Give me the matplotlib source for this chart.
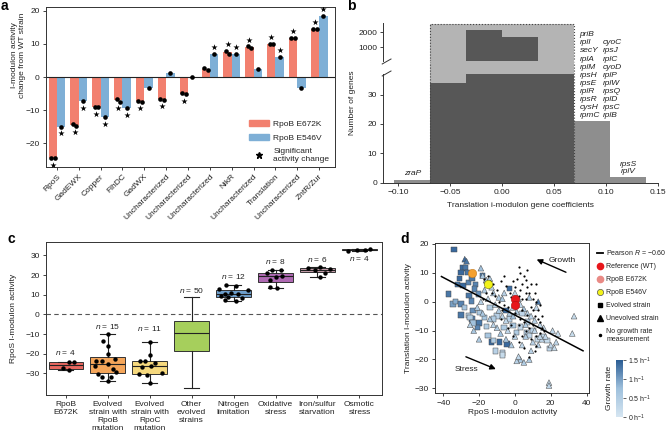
import numpy as np
import matplotlib
matplotlib.use('Agg')
import matplotlib.pyplot as plt
from matplotlib.patches import Patch, Rectangle
from matplotlib.lines import Line2D
from matplotlib.colors import LinearSegmentedColormap, Normalize
from matplotlib.cm import ScalarMappable
import matplotlib.transforms as mtransforms
from matplotlib import cbook

plt.rcParams['font.family'] = ['Liberation Sans', 'DejaVu Sans']
plt.rcParams['mathtext.fontset'] = 'custom'
plt.rcParams['mathtext.rm'] = 'Liberation Sans'
plt.rcParams['mathtext.it'] = 'Liberation Sans:italic'
plt.rcParams['font.size'] = 6
plt.rcParams['axes.linewidth'] = 0.7
plt.rcParams['xtick.major.size'] = 2.5
plt.rcParams['ytick.major.size'] = 2.5
plt.rcParams['xtick.major.width'] = 0.6
plt.rcParams['ytick.major.width'] = 0.6
plt.rcParams['xtick.labelsize'] = 6
plt.rcParams['ytick.labelsize'] = 6
plt.rcParams['axes.labelsize'] = 6
TXT = '#222222'

# ---------------- panel a data ----------------
a_categories = ['RpoS', 'GadEWX', 'Copper', 'FlhDC', 'GadWX', 'Uncharacterized',
                'Uncharacterized', 'Uncharacterized', 'NikR', 'Uncharacterized',
                'Translation', 'Uncharacterized', 'ZntR/Zur']
a_e672k_rep1 = [-24.4, -14.2, -9.0, -6.7, -7.2, -6.6, -4.8, 2.7, 7.9, 9.2, 10.0, 11.8, 14.6]
a_e672k_rep2 = [-24.4, -14.7, -9.0, -7.4, -7.4, -6.8, -5.2, 2.2, 6.9, 8.7, 10.0, 11.8, 14.6]
a_e546v = [-14.9, -7.2, -12.1, -9.4, -3.4, 1.3, 0.0, 7.0, 7.0, 2.3, 6.1, -3.3, 18.4]
a_sig_e672k = [1, 1, 1, 1, 1, 1, 1, 0, 1, 1, 1, 1, 1]
a_sig_e546v = [1, 1, 1, 1, 0, 0, 0, 1, 1, 0, 1, 0, 1]

# ---------------- panel b data ----------------
b_edges = [-0.1038, -0.0692, -0.0346, 0.0, 0.0346, 0.0692, 0.1038, 0.1384]
b_counts = [1, 34, 2120, 1700, 60, 21, 2]
b_region = [-0.0692, 0.0692]
b_region_top = 2580
b_genes_col1 = ['priB', 'rplI', 'secY', 'rplA', 'rplM', 'rpsH', 'rpsE', 'rplR', 'rpsR', 'cysH', 'rpmC']
b_genes_col2 = ['cyoC', 'rpsJ', 'rplC', 'cyoD', 'rplP', 'rplW', 'rpsQ', 'rplD', 'rpsC', 'rplB']

# ---------------- panel c data ----------------
c_labels = ['RpoB\nE672K', 'Evolved\nstrain with\nRpoB\nmutation', 'Evolved\nstrain with\nRpoC\nmutation',
            'Other\nevolved\nstrains', 'Nitrogen\nlimitation', 'Oxidative\nstress',
            'Iron/sulfur\nstarvation', 'Osmotic\nstress']
c_n = [4, 15, 11, 50, 12, 8, 6, 4]
c_rpob = [-27.3, -28.5, -24.2, -24.3]
c_rpob_jit = [-0.07, 0.07, 0.07, 0.2]
c_evo_rpob = [-9.8, -13.6, -16.1, -20.0, -22.9, -23.5, -23.7, -25.4, -26.3, -28.0, -29.5, -30.2, -31.9, -32.0, -33.9]
c_evo_rpob_jit = [0.0, -0.11, 0.0, 0.0, 0.17, -0.29, -0.13, 0.0, -0.31, 0.13, 0.21, -0.23, -0.13, 0.09, 0.0]
c_evo_rpoc = [-13.9, -20.5, -23.5, -23.8, -24.6, -26.3, -26.6, -30.0, -30.3, -30.6, -34.9]
c_evo_rpoc_jit = [0.0, 0.02, -0.22, -0.1, 0.13, 0.04, -0.18, 0.29, -0.26, -0.06, 0.02]
c_other_stats = dict(q1=-18.8, med=-9.3, q3=-3.1, whislo=-37.3, whishi=8.8)
c_nitrogen = [15.1, 14.7, 12.9, 12.5, 11.0, 10.6, 10.4, 9.3, 9.0, 8.6, 7.1, 6.6]
c_nitrogen_jit = [-0.17, 0.05, -0.35, 0.35, -0.05, 0.11, -0.21, -0.3, -0.13, 0.19, -0.21, 0.05]
c_oxidative = [22.7, 22.4, 20.9, 19.6, 19.0, 17.5, 14.2, 13.6]
c_oxidative_jit = [0.13, -0.09, -0.21, 0.15, 0.0, -0.13, -0.13, 0.03]
c_iron = [24.1, 23.8, 23.0, 22.4, 21.0, 19.0]
c_iron_jit = [0.07, -0.23, 0.29, -0.07, 0.17, 0.05]
c_osmotic = [32.4, 32.7, 33.0, 33.2]
c_osmotic_jit = [-0.27, -0.07, 0.13, 0.25]
c_colors = ['#E8675F', '#F5A65A', '#F6D97E', '#A6CF5C', '#6E9FCC', '#AE69B2', '#C9A2AE', '#777777']
c_nlabel_y = [-19.3, -6.4, -7.3, 12.2, 19.3, 26.9, 27.8, 28.3]

# ---------------- panel d data ----------------
d_sq_x = [-34, -29, -27.5, -30, -26.5, -31, -32, -29, -26, -24, -22, -37, -34.5, -33, -30, -30, -24.3, -23.3,
          -24, -20, -21, -25.6, -22.4, -20.4, -28, -26, -25, -23.3, -19.6, -16, -15, -13, -12, -8.5, -7, -7,
          -11, -3, -1, 1, 3, 6.3, 8, 12.8, 18, 19.3, -4.4, -18, -16, -14, -10, -6, 4, 7, -17, -12, 10, 16, -5, -3]
d_sq_y = [18, 11.6, 11.8, 10, 10, 8, 6, 5.5, 6.7, 8, 6, 2.6, -0.8, 0, -0.8, -4.6, 0.3, -3.1,
          -6, -7.4, -9, 2.1, 4.4, 2.6, -2, -4.8, -5.5, -7.4, -3.7, -8.5, -11.7, -14, -13.4, -14, -17.7, -18.5,
          -17, -6, -8.3, -10.6, -8.8, -10.6, -11.7, -12.9, -13.4, -16.3, -14.6, 9, 7, -2, -5, -9, -4, -7, -5.5, -6, -10, -12, -3, 4.5]
d_sq_g = [1.4, 1.4, 1.3, 1.4, 1.3, 1.4, 1.3, 1.4, 1.2, 1.3, 1.2, 1.3, 1.0, 0.9, 1.2, 1.3, 1.2, 1.1,
          1.2, 1.3, 1.2, 1.3, 1.2, 1.1, 0.6, 0.4, 0.5, 0.7, 0.6, 0.5, 0.6, 1.4, 0.5, 1.4, 0.3, 0.2,
          0.4, 0.4, 0.6, 0.5, 0.3, 0.4, 0.3, 0.2, 0.2, 0.3, 1.4, 1.3, 0.9, 0.5, 0.4, 0.5, 0.3, 0.4, 0.6, 0.5, 0.4, 0.2, 1.4, 1.4]
d_tri_x = [-28, -27, -19, -18, -16, -14, -17, -13, -12, -21, -19, -15, -11, -9, -7, -5, -3, -1, 1, 3, 5, 7, 9, 11,
           13, 14, 16, 17, 20, 22, 21, 24, 33, 32, 19, 19, 3, 1, 5, 8, 2, 10, 6, -2, -5, -8, -10, -12, -14, -6,
           -9, 0, 2, 8, 12, 15, 13, -4, 0, 4, 9, -20, -23, -25, -18, -1, 6, 14, 23, 11, -7]
d_tri_y = [14.7, 14, 11.6, 9, 7.5, 8, 4, 5, 3, -2, 0, 1, -1, -3, -5, -6.5, -4, -2, -3.5, -1, -2.5, -4, -5, -6.5,
           0, -8, -9, -12, -15, -16, -10, -11, -5, -11, -28, -29, -20, -20.5, -21, -20, -19, -14, -12, -15, -13, -11, -9, -8, -6, 3,
           1.5, 3, 1, 1.5, -2, -13, -15, -10, -12, -15, -17, -13, -10, -8, -4, -5, -8, -12, -14, -10, 1]
d_tri_g = [1.4, 1.3, 0.7, 0.6, 0.6, 0.5, 0.5, 0.4, 0.5, 0.5, 0.4, 0.3, 0.4, 0.5, 0.4, 0.3, 0.5, 0.4, 0.5, 0.3, 0.6, 0.4, 0.3, 0.4,
           1.3, 0.3, 0.2, 0.3, 0.3, 0.2, 0.3, 0.2, 0.2, 0.2, 0.2, 0.3, 0.6, 0.4, 0.5, 0.5, 0.3, 0.4, 0.5, 0.5, 0.6, 0.7, 0.5, 0.4, 0.6, 0.4,
           0.5, 0.3, 0.4, 0.6, 0.3, 0.3, 0.4, 0.3, 0.4, 0.3, 0.4, 0.5, 0.6, 0.4, 0.6, 0.7, 0.5, 0.3, 0.3, 0.3, 0.6]
d_dot_x = [2, 3, 5, 1, 6, 4, -5, -8, -3, 8, 10, 12, 9, 7, 11, 13, 14, 10, 6, 4, 2, -2, -4, -7, -10, -12, -14, -16, -18,
           15, 14, 12, 11, 8, 5, -1, 0, 2, 4, 6, 1, -2, 7, 9, 11, 13, 15, -6, -9, -11, -13, 3, 5, 8, 12, 16, -15, -17,
           -8, -4, 0, 3, 6, 10, 14, 12, 7, 4, -1, 9, 2, -6]
d_dot_y = [12, 10, 9, 8, 7.5, 6, 5.5, 7, 3, 3, 1, 0, -2, -4.5, -5, -6, -7, -8, -10, -12, -14, -8, -9, -3, 4, 6, 7, 3, 1,
           -5, -11, -15.5, -17, -19, -16, -12, 5, 2, -3, 1, -1, 1.5, 5, 6, 3, -3, -9, -1, 0, 2, 3, -6, -7, -9, -12, -10, 9, 8,
           -6, -2, -4, 4, 3, -3, -1, 6, 11, 1, 7, -13, -8, 9]
d_wt_x = [0, 0]
d_wt_y = [1.0, -1.3]
d_e672k_x = [-24]
d_e672k_y = [10]
d_e546v_x = [-15]
d_e546v_y = [6]
d_fit_x = [-41, 38]
d_fit_y = [8.7, -17.0]

# ---------------- figure ----------------
W, H = 667, 438
fig = plt.figure(figsize=(W / 100, H / 100), dpi=100)

def px_axes(l, t, r, b):
    return fig.add_axes([l / W, 1 - b / H, (r - l) / W, (b - t) / H])

def style(ax):
    ax.tick_params(colors=TXT, labelcolor=TXT, pad=2)
    for s in ax.spines.values():
        s.set_color('#333333')

# ===== panel a =====
red = '#F2806F'
blue = '#7EAFD6'
ax = px_axes(46, 7.3, 334.5, 166.7)
style(ax)
x = np.arange(len(a_categories))
e672k = (np.array(a_e672k_rep1) + np.array(a_e672k_rep2)) / 2
ax.bar(x - 0.19, e672k, width=0.38, color=red, zorder=1)
ax.bar(x + 0.19, a_e546v, width=0.38, color=blue, zorder=1)
ax.axhline(0, color='#222222', lw=0.8, zorder=2)
ax.scatter(np.concatenate([x - 0.19 - 0.08, x - 0.19 + 0.08]), a_e672k_rep1 + a_e672k_rep2,
           s=11, color='k', zorder=3, linewidths=0)
ax.scatter(x + 0.19, a_e546v, s=11, color='k', zorder=3, linewidths=0)
for i in range(len(x)):
    lo = min(a_e672k_rep1[i], a_e672k_rep2[i]); hi = max(a_e672k_rep1[i], a_e672k_rep2[i])
    if a_sig_e672k[i]:
        yy = lo - 2.0 if e672k[i] < 0 else hi + 2.0
        ax.scatter(x[i] - 0.19, yy, marker='*', s=22, color='k', zorder=3, linewidths=0)
    if a_sig_e546v[i]:
        yy = a_e546v[i] - 2.0 if a_e546v[i] < 0 else a_e546v[i] + 2.0
        ax.scatter(x[i] + 0.19, yy, marker='*', s=22, color='k', zorder=3, linewidths=0)
ax.set_xlim(-0.5, 12.7)
ax.set_ylim(-27, 21)
ax.set_yticks([-20, -10, 0, 10, 20])
ax.set_xticks(x)
ax.set_xticklabels(a_categories, rotation=45, ha='right', rotation_mode='anchor')
ax.set_ylabel('I-modulon activity\nchange from WT strain', color=TXT, linespacing=1.15)
ax.yaxis.set_label_coords(-0.07, 0.7)
h = [Patch(color=red), Patch(color=blue),
     Line2D([], [], marker='*', color='k', ls='none', markersize=5)]
ax.legend(h, ['RpoB E672K', 'RpoB E546V', 'Significant\nactivity change'], loc='upper left',
          bbox_to_anchor=(0.69, 0.32), frameon=False, handlelength=2.4, handletextpad=0.5,
          labelspacing=0.75, fontsize=6, borderpad=0, labelcolor=TXT)
fig.text(1 / W, 1 - 10 / H, 'a', fontsize=10, fontweight='bold', va='baseline')

# ===== panel b =====
dark = '#575757'; light = '#B4B4B4'; mid = '#8E8E8E'
axu = px_axes(383.3, 23.3, 658.3, 61.5)
axl = px_axes(383.3, 73.5, 658.3, 182.7)
lefts = b_edges[:-1]
widths = np.diff(b_edges)
bcols = [mid, dark, dark, dark, dark, mid, mid]
for a_ in (axu, axl):
    style(a_)
    a_.bar(b_region[0], b_region_top, width=b_region[1] - b_region[0], align='edge', color=light, zorder=0)
    a_.bar(lefts, b_counts, width=widths, align='edge', color=bcols, zorder=1)
    a_.set_xlim(-0.114, 0.15)
    a_.spines['top'].set_visible(False)
    a_.spines['right'].set_visible(False)
axu.set_ylim(35, 2600)
axl.set_ylim(0, 37.2)
axu.spines['bottom'].set_visible(False)
axu.tick_params(axis='x', bottom=False, labelbottom=False)
axu.set_yticks([1000, 2000])
axl.set_yticks([0, 10, 20, 30])
axl.set_xticks([-0.10, -0.05, 0.0, 0.05, 0.10, 0.15])
axl.set_xticklabels(['−0.10', '−0.05', '0.00', '0.05', '0.10', '0.15'])
axl.set_xlabel('Translation i-modulon gene coefficients', color=TXT, labelpad=4)
gap = (73.5 - 61.5) / (182.7 - 73.5)
tr = mtransforms.blended_transform_factory(axl.transData, axl.transAxes)
axl.add_patch(Rectangle((b_region[0], 1), b_region[1] - b_region[0], gap, transform=tr,
                        color=light, clip_on=False, zorder=0, lw=0))
for xv in b_region:
    axl.plot([xv, xv], [0, 1 + gap], transform=tr, ls=':', color='#444444', lw=0.8, clip_on=False, zorder=2)
axu.plot([b_region[0], b_region[0], b_region[1], b_region[1]], [35, b_region_top, b_region_top, 35],
         ls=':', color='#444444', lw=0.8, clip_on=False, zorder=2)
for a_, yy in ((axu, 0.0), (axl, 1.0)):
    hpx = a_.get_position().height * H
    a_.plot([-0.004, 0.028], [yy - 2.5 / hpx, yy + 2.5 / hpx],
            transform=a_.transAxes, color='#333333', lw=0.7, clip_on=False)
fig.text(352 / W, 1 - 103 / H, 'Number of genes', rotation=90, va='center', ha='center', color=TXT)
axl.text(-0.086, 2.0, 'zraP', style='italic', ha='center', va='bottom', color=TXT)
axl.text(0.121, 2.6, 'rpsS\nrplV', style='italic', ha='center', va='bottom', color=TXT, linespacing=1.1)
axl.text(0.0745, 21.6, '\n'.join(b_genes_col1), style='italic', ha='left', va='bottom', color=TXT, linespacing=1.22)
axl.text(0.0965, 21.6, '\n'.join(b_genes_col2), style='italic', ha='left', va='bottom', color=TXT, linespacing=1.22)
fig.text(347 / W, 1 - 10 / H, 'b', fontsize=10, fontweight='bold', va='baseline')

# ===== panel c =====
axc = px_axes(46, 241.7, 381.7, 395)
style(axc)
groups = [c_rpob, c_evo_rpob, c_evo_rpoc, None, c_nitrogen, c_oxidative, c_iron, c_osmotic]
jits = [c_rpob_jit, c_evo_rpob_jit, c_evo_rpoc_jit, None, c_nitrogen_jit, c_oxidative_jit, c_iron_jit, c_osmotic_jit]
stats = []
for g in groups:
    if g is None:
        st = dict(c_other_stats); st['fliers'] = []
    else:
        st = cbook.boxplot_stats(g, whis=1.5)[0]; st['fliers'] = []
    stats.append(st)
axc.axhline(0, ls=(0, (4, 3)), color='#555555', lw=0.8, zorder=0)
bp = axc.bxp(stats, positions=range(8), widths=0.82, patch_artist=True, showfliers=False,
             boxprops=dict(lw=0.7, edgecolor='#333333'), medianprops=dict(color='#222222', lw=0.8),
             whiskerprops=dict(color='#222222', lw=0.8), capprops=dict(color='#222222', lw=0.8),
             capwidths=0.35)
for patch, col in zip(bp['boxes'], c_colors):
    patch.set_facecolor(col)
for i, (g, j) in enumerate(zip(groups, jits)):
    if g is None:
        continue
    axc.scatter(i + np.array(j), g, s=10, color='k', zorder=3, linewidths=0)
for i in range(8):
    axc.text(i, c_nlabel_y[i], r'$n$ = %d' % c_n[i], ha='center', va='center', color=TXT)
axc.set_xlim(-0.47, 7.53)
axc.set_ylim(-41, 37)
axc.set_yticks([-30, -20, -10, 0, 10, 20, 30])
axc.set_xticks(range(8))
axc.set_xticklabels(c_labels, linespacing=1.2)
axc.tick_params(axis='x', pad=1.5)
axc.set_ylabel('RpoS I-modulon activity', color=TXT)
axc.yaxis.set_label_coords(-0.085, 0.5)
fig.text(7 / W, 1 - 243 / H, 'c', fontsize=10, fontweight='bold', va='baseline')

# ===== panel d =====
cmap = LinearSegmentedColormap.from_list('gr', ['#D5E5F1', '#9EC0DC', '#2A5C94'])
norm = Normalize(0, 1.5)
axd = px_axes(435, 243.3, 589.3, 393.3)
style(axd)
axd.scatter(d_sq_x, d_sq_y, c=d_sq_g, cmap=cmap, norm=norm, marker='s', s=15,
            edgecolors='#4a4a4a', linewidths=0.35, zorder=2)
axd.scatter(d_tri_x, d_tri_y, c=d_tri_g, cmap=cmap, norm=norm, marker='^', s=17,
            edgecolors='#4a4a4a', linewidths=0.35, zorder=2)
axd.scatter(d_dot_x, d_dot_y, color='k', s=2.5, linewidths=0, zorder=3)
axd.plot(d_fit_x, d_fit_y, color='k', lw=1.1, zorder=4)
axd.scatter(d_e672k_x, d_e672k_y, color='#F4A02F', s=36, edgecolors='#C27A20', linewidths=0.4, zorder=5)
axd.scatter(d_e546v_x, d_e546v_y, color='#F2F21A', s=36, edgecolors='#777700', linewidths=0.4, zorder=5)
axd.scatter(d_wt_x, d_wt_y, color='#E8161B', s=36, edgecolors='#B01010', linewidths=0.4, zorder=5)
axd.annotate('', xy=(10.7, 15), xytext=(29.9, 9.8),
             arrowprops=dict(arrowstyle='-|>', color='k', lw=1.0, mutation_scale=8))
axd.text(26.2, 14.4, 'Growth', ha='center', va='center', color=TXT, fontsize=6)
axd.annotate('', xy=(-9.2, -23.7), xytext=(-28.8, -18.7),
             arrowprops=dict(arrowstyle='-|>', color='k', lw=1.0, mutation_scale=8))
axd.text(-26.9, -23.3, 'Stress', ha='center', va='center', color=TXT, fontsize=6)
axd.set_xlim(-44.6, 41.5)
axd.set_ylim(-31.7, 20.2)
axd.set_xticks([-40, -20, 0, 20, 40])
axd.set_xticklabels(['−40', '−20', '0', '20', '40'])
axd.set_yticks([-30, -20, -10, 0, 10, 20])
axd.set_xlabel('RpoS I-modulon activity', color=TXT, labelpad=2)
axd.set_ylabel('Translation I-modulon activity', color=TXT, labelpad=2)
hd = [Line2D([], [], color='k', lw=1.3),
      Line2D([], [], marker='o', color='#E8161B', ls='none', markersize=4.5),
      Line2D([], [], marker='o', color='#E98A85', ls='none', markersize=4.5),
      Line2D([], [], marker='o', color='#F2F21A', markeredgecolor='#555555', markeredgewidth=0.5, ls='none', markersize=4.5),
      Line2D([], [], marker='s', color='k', ls='none', markersize=3.5),
      Line2D([], [], marker='^', color='k', ls='none', markersize=4),
      Line2D([], [], marker='o', color='k', ls='none', markersize=1.5)]
ld = ['Pearson $R$ = −0.60', 'Reference (WT)', 'RpoB E672K', 'RpoB E546V', 'Evolved strain',
      'Unevolved strain', 'No growth rate\nmeasurement']
axd.legend(hd, ld, loc='upper left', bbox_to_anchor=(594 / W, 1 - 245 / H), bbox_transform=fig.transFigure,
           frameon=False, handlelength=0.8, handletextpad=0.5, labelspacing=0.85, fontsize=5.0,
           borderpad=0, labelcolor=TXT)
cax = px_axes(616, 360, 623.3, 416.7)
cb = fig.colorbar(ScalarMappable(norm=norm, cmap=cmap), cax=cax)
cb.outline.set_visible(False)
cb.set_ticks([0, 0.5, 1, 1.5])
cb.set_ticklabels([r'0 h$^{-1}$', r'0.5 h$^{-1}$', r'1 h$^{-1}$', r'1.5 h$^{-1}$'])
cax.tick_params(length=2, width=0.5, labelsize=5, colors=TXT, pad=1.5)
cax.yaxis.set_label_position('left')
cax.set_ylabel('Growth rate', fontsize=6, color=TXT, labelpad=2)
fig.text(400 / W, 1 - 243 / H, 'd', fontsize=10, fontweight='bold', va='baseline')

fig.savefig('out.png', dpi=100)
